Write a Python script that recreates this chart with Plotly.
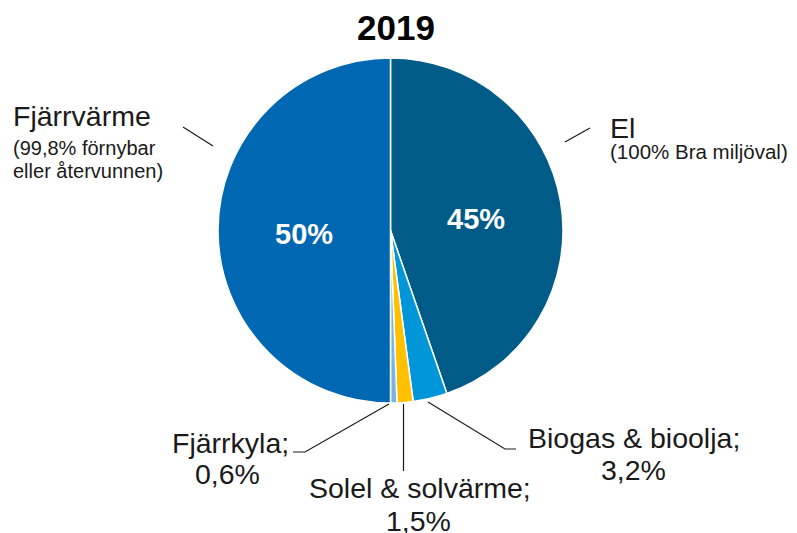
import plotly.graph_objects as go

title = "2019"
categories = ["El", "Biogas & bioolja", "Solel & solvärme", "Fjärrkyla", "Fjärrvärme"]
values = [44.7, 3.2, 1.5, 0.6, 50.0]
value_labels = ["45%", "3,2%", "1,5%", "0,6%", "50%"]
notes = {"El": ["(100% Bra miljöval)"], "Fjärrvärme": ["(99,8% förnybar", "eller återvunnen)"]}
colors = ["#005B88", "#0096D8", "#FFC000", "#79B4E4", "#0068B2"]

# page body has an 8px margin; figure is offset by it
OFF = 8
W, H = 797 - OFF, 533 - OFF
def px(x): return (x - OFF) / W
def py(y): return 1 - (y - OFF) / H

fig = go.Figure()
fig.add_trace(go.Pie(
    labels=categories, values=values, sort=False, direction="clockwise", rotation=0,
    marker=dict(colors=colors, line=dict(color="white", width=1.5)),
    textinfo="none", hoverinfo="label+percent", showlegend=False,
    domain=dict(x=[px(218), px(563)], y=[py(403), py(58)]),
))

font = "Liberation Sans, Arial, sans-serif"
TXT = "#1a1a1a"
ann = []
def text(x, y, s, size, color=TXT, xanchor="center", bold=False):
    ann.append(dict(x=px(x), y=py(y), text=("<b>%s</b>" % s) if bold else s, showarrow=False,
                    xanchor=xanchor, yanchor="middle",
                    font=dict(size=size, color=color, family=font)))

text(396, 28, title, 35, color="black", bold=True)
text(476, 219, value_labels[0], 29, color="white", bold=True)
text(303.5, 234, value_labels[4], 29, color="white", bold=True)

# Fjärrvärme
text(11, 116, categories[4], 28.5, xanchor="left")
text(11, 148, notes["Fjärrvärme"][0], 20, xanchor="left")
text(11, 171, notes["Fjärrvärme"][1], 20, xanchor="left")
# El
text(608, 128, categories[0], 28.5, xanchor="left")
text(608, 152, notes["El"][0], 20.5, xanchor="left")
# Fjärrkyla
text(230, 443, categories[3] + ";", 28.5)
text(228, 474, value_labels[3], 28.5)
# Solel
text(419.5, 488, categories[2] + ";", 28.5)
text(418.5, 521, value_labels[2], 28.5)
# Biogas
text(634, 438, categories[1] + ";", 28.5)
text(633, 470, value_labels[1], 28.5)

shapes = []
def path(points):
    d = "M " + " L ".join("%f,%f" % (px(a), py(b)) for a, b in points)
    shapes.append(dict(type="path", xref="paper", yref="paper", path=d,
                       line=dict(color="#1a1a1a", width=1.2)))
path([(183, 127), (213, 146)])
path([(565, 142), (590, 128)])
path([(389, 404), (305, 452), (293, 452)])
path([(403.5, 404), (403.5, 471)])
path([(428, 402), (505, 449), (516, 449)])

fig.update_layout(width=W, height=H, margin=dict(l=0, r=0, t=0, b=0),
                  paper_bgcolor="white", plot_bgcolor="white",
                  annotations=ann, shapes=shapes)
fig.write_html("out.html")
